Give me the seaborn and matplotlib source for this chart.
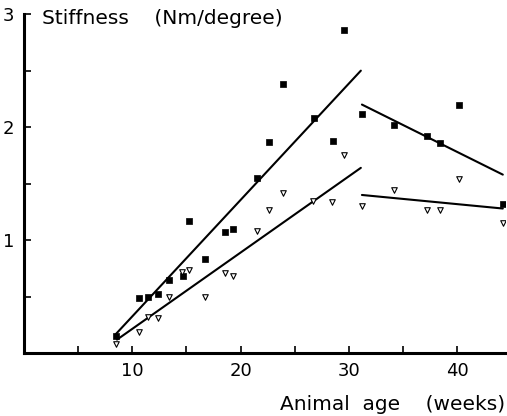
import pandas as pd
import matplotlib
matplotlib.use("Agg")
import matplotlib.pyplot as plt
import seaborn as sns

sns.set_style("ticks")
plt.rcParams['font.family'] = ['DejaVu Sans']
plt.rcParams['text.color'] = 'black'
plt.rcParams['xtick.color'] = 'black'
plt.rcParams['ytick.color'] = 'black'
plt.rcParams['axes.edgecolor'] = 'black'

# filled points
age_filled = [8.5, 10.6, 11.5, 12.4, 13.4, 14.7, 15.2, 16.7, 18.6, 19.3, 21.5, 22.6,
              23.9, 26.8, 28.5, 29.5, 31.2, 34.2, 37.2, 38.4, 40.2, 44.2]
stiff_filled = [0.15, 0.49, 0.50, 0.52, 0.65, 0.68, 1.17, 0.83, 1.07, 1.10, 1.55, 1.87,
                2.38, 2.08, 1.88, 2.86, 2.12, 2.02, 1.92, 1.86, 2.20, 1.32]

# open triangles
age_open = [8.5, 10.6, 11.5, 12.4, 13.4, 14.6, 15.2, 16.7, 18.6, 19.3, 21.5, 22.6,
            23.9, 26.7, 28.4, 29.5, 31.2, 34.2, 37.2, 38.4, 40.2, 44.2]
stiff_open = [0.08, 0.19, 0.32, 0.31, 0.50, 0.72, 0.74, 0.50, 0.71, 0.68, 1.08, 1.27,
              1.42, 1.35, 1.34, 1.75, 1.30, 1.44, 1.27, 1.27, 1.54, 1.15]

# fitted lines (end points)
fit_x = [[8.5, 31.1], [8.6, 31.1], [31.2, 44.2], [31.2, 44.2]]
fit_y = [[0.17, 2.50], [0.12, 1.64], [2.20, 1.58], [1.40, 1.28]]

fig = plt.figure(figsize=(5.07, 4.16), dpi=100)
ax = fig.add_axes([0.047, 0.151, 0.949, 0.815])

for xs, ys in zip(fit_x, fit_y):
    sns.lineplot(x=xs, y=ys, ax=ax, color='black', linewidth=1.5)

sns.scatterplot(x=age_filled, y=stiff_filled, ax=ax, marker='s', s=16,
                color='black', edgecolor='black', linewidth=0.5, zorder=3)
sns.scatterplot(x=age_open, y=stiff_open, ax=ax, marker='v', s=16,
                facecolor='white', edgecolor='black', linewidth=0.8, zorder=3)

ax.set_xlim(0, 44.4)
ax.set_ylim(0, 3)
ax.set_xticks([10, 20, 30, 40])
ax.set_xticks([5, 15, 25, 35], minor=True)
ax.set_yticks([1, 2, 3])
ax.set_yticks([0.5, 1.5, 2.5], minor=True)
ax.tick_params(axis='both', which='both', direction='in', length=5, width=1.2,
               labelsize=13, color='black', labelcolor='black')
ax.tick_params(axis='x', pad=6)
ax.tick_params(axis='y', pad=7)
sns.despine(ax=ax)
ax.spines['left'].set_linewidth(2.2)
ax.spines['bottom'].set_linewidth(2.2)
ax.set_xlabel('')
ax.set_ylabel('')

fig.text(42 / 507, 1 - 19 / 416, 'Stiffness    (Nm/degree)', fontsize=14.5,
         ha='left', va='center', color='black')
fig.text(505 / 507, 1 - 405 / 416, 'Animal  age    (weeks)', fontsize=14.5,
         ha='right', va='center', color='black')

fig.savefig('out.png', dpi=100)
